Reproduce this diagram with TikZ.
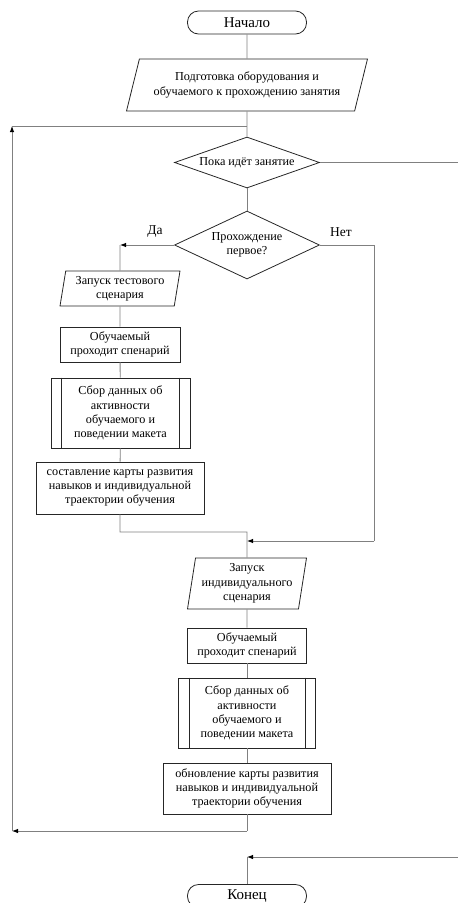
\documentclass[tikz,border=0pt]{standalone}
\usepackage{fontspec}
\newfontfamily\blockfont{Liberation Serif}
\usetikzlibrary{arrows.meta,shapes.geometric}

\tikzset{
	blk/.style={draw=black!85, line width=0.8pt, align=center, inner sep=1pt,
		font=\blockfont\fontsize{12.2}{14.3}\selectfont},
	term/.style={blk, rounded corners=11pt, minimum width=119pt, minimum height=23pt,
		font=\blockfont\fontsize{15}{16}\selectfont},
	proc/.style={blk, rectangle, minimum height=35pt},
	subproc/.style={blk, rectangle, minimum height=70pt},
	cond/.style={blk, diamond, inner sep=0pt},
	io/.style={blk, trapezium, trapezium stretches body},
	line/.style={draw=black!50, line width=0.9pt},
	arr/.style={line, -{Latex[black, length=6pt, width=4.5pt]}},
	lbl/.style={font=\blockfont\fontsize{13.5}{15}\selectfont}
}

\begin{document}
\begin{tikzpicture}[x=1pt, y=-1pt]
	\useasboundingbox (0,0) rectangle (458,903);

	% Nodes {start, prep, whileclass, firstpass, ...}
	\node [term]                          (start)      at (247,22.5)  {Начало};
	\node [io, trapezium left angle=65, trapezium right angle=115,
		minimum width=241pt, minimum height=52pt] (prep) at (247,85)
		{Подготовка оборудования и\\обучаемого к прохождению занятия};
	\node [cond, aspect=2.84, minimum width=145pt, minimum height=51pt] (whileclass) at (247,162.5) {Пока идёт занятие};
	\node [cond, aspect=2.13, minimum width=145pt, minimum height=68pt] (firstpass)  at (247,245)   {Прохождение\\первое?};

	\node [io, trapezium left angle=78, trapezium right angle=102,
		minimum width=120pt, minimum height=35pt] (testrun) at (120,288.5)
		{Запуск тестового\\сценария};
	\node [proc, minimum width=120pt]     (pass1)      at (120,344.5) {Обучаемый\\проходит спенарий};
	\node [subproc, minimum width=139pt]  (collect1)   at (120.5,413) {Сбор данных об\\активности\\обучаемого и\\поведении макета};
	\node [proc, minimum width=168pt, minimum height=52pt] (makemap) at (120,488)
		{составление карты развития\\навыков и индивидуальной\\траектории обучения};

	\node [io, trapezium left angle=79, trapezium right angle=101,
		minimum width=119pt, minimum height=51pt] (indrun) at (247,583.5)
		{Запуск\\индивидуального\\сценария};
	\node [proc, minimum width=119pt]     (pass2)      at (247,645.5) {Обучаемый\\проходит спенарий};
	\node [subproc, minimum width=137pt]  (collect2)   at (247,713)   {Сбор данных об\\активности\\обучаемого и\\поведении макета};
	\node [proc, minimum width=168pt, minimum height=51pt] (updmap) at (247,788.5)
		{обновление карты развития\\навыков и индивидуальной\\траектории обучения};

	\node [term]                          (finish)     at (247,896)   {Конец};

	% inner bars of the subprocess blocks
	\foreach \n in {collect1, collect2} {
		\draw [black!85, line width=0.8pt] ([xshift=11pt]\n.north west) -- ([xshift=11pt]\n.south west);
		\draw [black!85, line width=0.8pt] ([xshift=-11pt]\n.north east) -- ([xshift=-11pt]\n.south east);
	}

	% Corner points
	\coordinate (loopin)  at (247,126);
	\coordinate (loopup)  at (12,126);
	\coordinate (loopdn)  at (12,831);
	\coordinate (loopret) at (247,831);
	\coordinate (exitr)   at (458,162.5);
	\coordinate (exitin)  at (458,857);
	\coordinate (exitpt)  at (247,857);
	\coordinate (yes)     at (120,245);
	\coordinate (no)      at (374,245);
	\coordinate (nodn)    at (374,541);
	\coordinate (join)    at (247,541);
	\coordinate (mapdn)   at (120,532);
	\coordinate (mapr)    at (247,532);

	% Paths
	\path [line] (start) -- (prep);
	\path [line] (prep) -- (whileclass);
	\path [line] (whileclass) -- (firstpass);
	\path [line] (whileclass.east) -- (exitr);

	\path [arr]  (firstpass.west) -- (yes);
	\path [line] (yes) -- (testrun.north);
	\path [line] (testrun) -- (pass1);
	\path [line] (pass1) -- (collect1);
	\path [line] (collect1) -- (makemap);
	\path [line] (makemap.south) -- (mapdn) -- (mapr) -- (indrun.north);

	\path [line] (firstpass.east) -- (no) -- (nodn);
	\path [arr]  (nodn) -- (join);

	\path [line] (indrun) -- (pass2);
	\path [line] (pass2) -- (collect2);
	\path [line] (collect2) -- (updmap);
	\path [line] (updmap.south) -- (loopret);
	\path [arr]  (loopret) -- (loopdn);
	\path [arr]  (loopdn) -- (loopup);
	\path [line] (loopup) -- (loopin);

	\path [arr]  (exitin) -- (exitpt);
	\path [line] (exitpt) -- (finish);

	\node [lbl] (yeslbl) at (155,232) {Да};
	\node [lbl] (nolbl)  at (341,232) {Нет};
\end{tikzpicture}
\end{document}
